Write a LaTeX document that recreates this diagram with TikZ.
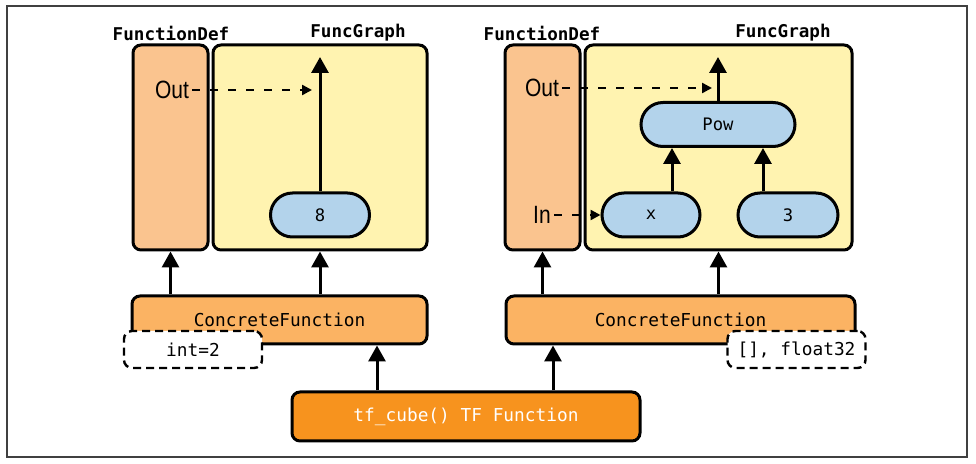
\documentclass[tikz,border=0pt]{standalone}
\usepackage{fontspec}
\setmonofont{DejaVu Sans Mono}
\newfontfamily\portfont[FakeStretch=0.84]{Liberation Sans}
\usepackage{tikz}
\usetikzlibrary{arrows.meta,calc}
\definecolor{defcol}{HTML}{FAC48F}
\definecolor{graphcol}{HTML}{FFF3B0}
\definecolor{opcol}{HTML}{B3D3EB}
\definecolor{concol}{HTML}{FBB363}
\definecolor{tfcol}{HTML}{F7931E}
\tikzstyle{fdef}=[rectangle,rounded corners=4pt,line width=1.5pt,draw=black,
fill=defcol,minimum width=37.5pt,minimum height=102.5pt]
\tikzstyle{fgraph}=[rectangle,rounded corners=4pt,line width=1.5pt,draw=black,
fill=graphcol,minimum height=102.5pt]
\tikzstyle{op}=[rectangle,rounded corners=11pt,line width=1.5pt,draw=black,
fill=opcol,minimum height=22pt,font=\ttfamily\fontsize{8.6}{10}\selectfont]
\tikzstyle{concrete}=[rectangle,rounded corners=4pt,line width=1.5pt,draw=black,
fill=concol,minimum height=24pt,font=\ttfamily\fontsize{8.9}{10}\selectfont]
\tikzstyle{signature}=[rectangle,rounded corners=4pt,line width=1.2pt,draw=black,
dash pattern=on 4pt off 2.5pt,fill=white,minimum width=69pt,minimum height=18.5pt,
font=\ttfamily\fontsize{8.9}{10}\selectfont]
\tikzstyle{title}=[font=\ttfamily\bfseries\fontsize{8.8}{10}\selectfont]
\tikzstyle{port}=[inner sep=1.5pt,font=\portfont\fontsize{12.5}{14}\selectfont]

\begin{document}
\begin{tikzpicture}[x=0.5pt,y=-0.5pt,
    >={Triangle[length=8pt,width=8.5pt]},
    flow/.style={->,line width=1.5pt},
    link/.style={-{Triangle[length=5pt,width=5pt]},line width=1.2pt,
      dash pattern=on 4pt off 5pt}]
  \useasboundingbox (0,0) rectangle (976,464);
  \draw[black!75,line width=0.8pt] (7,6) rectangle (967,457);

  % left: concrete function for int=2
  \node (defL)   [fdef]   at (170.5,147.5) {};
  \node (graphL) [fgraph,minimum width=107pt] at (320,147.5) {};
  \node (defLt)   [title] at (171,33) {FunctionDef};
  \node (graphLt) [title] at (358,33) {FuncGraph};
  \node (outL) [port] at (172,90) {Out};
  \node (eight) [op,minimum width=49.5pt] at (320,215) {8};
  \coordinate (topL) at (320,57);
  \coordinate (outLend) at (312,90);

  % right: concrete function for [], float32
  \node (defR)   [fdef]   at (542.5,147.5) {};
  \node (graphR) [fgraph,minimum width=133.5pt] at (718.5,147.5) {};
  \node (defRt)   [title] at (542,33) {FunctionDef};
  \node (graphRt) [title] at (783,33) {FuncGraph};
  \node (outR) [port] at (542,88) {Out};
  \node (inR)  [port] at (542,215) {In};
  \node (pow)   [op,minimum width=77pt] at (718,124.5) {Pow};
  \node (xvar)  [op,minimum width=49pt] at (651,215) {x};
  \node (three) [op,minimum width=50pt] at (788,215) {3};
  \coordinate (topR) at (718,57);
  \coordinate (outRend) at (712,88);
  \coordinate (powA) at ($(pow.south)+(-46,0)$);
  \coordinate (powB) at ($(pow.south)+(45,0)$);

  % bottom: concrete functions and the TF function
  \node (cfL) [concrete,minimum width=147.5pt] at (279.5,320) {ConcreteFunction};
  \node (cfR) [concrete,minimum width=174.5pt] at (680.5,320) {ConcreteFunction};
  \node (sigL) [signature] at (193,349.5) {int=2};
  \node (sigR) [signature] at (796.5,349.5) {[], float32};
  \node (tf) [concrete,fill=tfcol,text=white,minimum width=174pt,
    minimum height=24.5pt] at (466,416.5) {tf\_cube() TF Function};
  \coordinate (tfA) at ($(tf.north)+(-89,0)$);
  \coordinate (tfB) at ($(tf.north)+(87,0)$);

  % arrows
  \path[flow]
  (eight.north) edge (topL)
  (pow.north) edge (topR)
  (xvar.north -| powA) edge (powA)
  (three.north -| powB) edge (powB)
  (cfL.north -| defL.south) edge (defL.south)
  (cfL.north -| graphL.south) edge (graphL.south)
  (cfR.north -| defR.south) edge (defR.south)
  (cfR.north -| graphR.south) edge (graphR.south)
  (tfA) edge (tfA |- cfL.south)
  (tfB) edge (tfB |- cfR.south);
  \path[link]
  (outL.east) edge (outLend)
  (outR.east) edge (outRend)
  (inR.east) edge (xvar.west);
\end{tikzpicture}
\end{document}
